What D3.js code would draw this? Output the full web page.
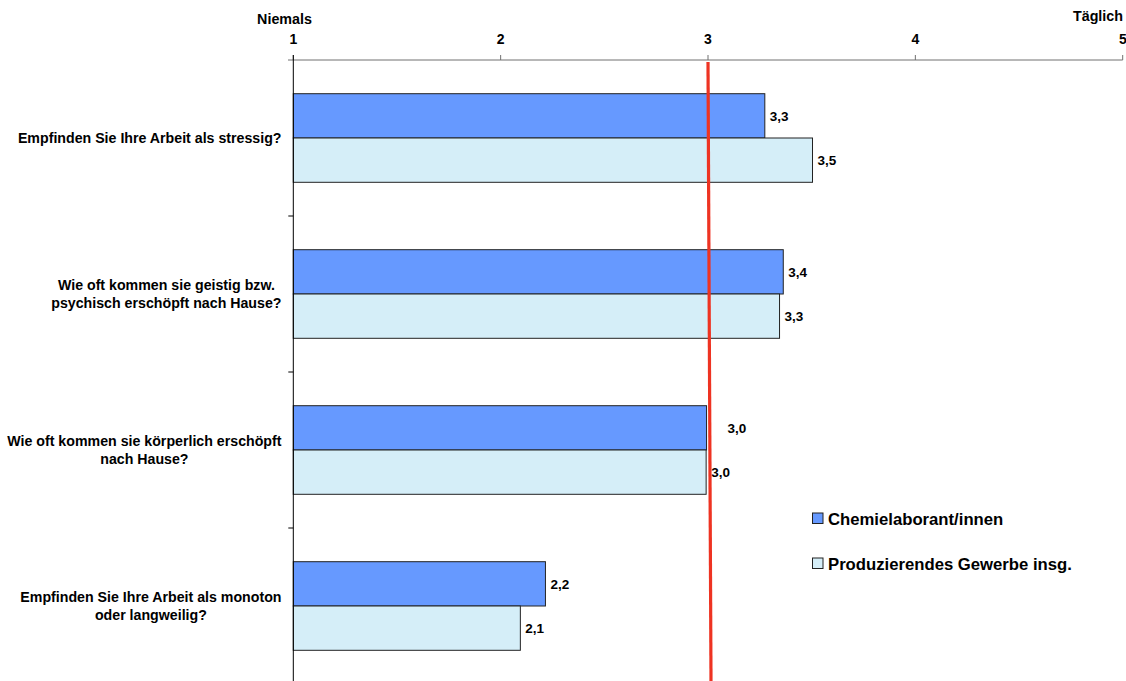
<!DOCTYPE html>
<html>
<head>
<meta charset="utf-8">
<script src="https://cdn.jsdelivr.net/npm/d3@7"></script>
<style>
  html, body { margin: 0; padding: 0; background: #fff; }
  svg { display: block; font-family: "Liberation Sans", Arial, sans-serif; font-weight: bold; }
</style>
</head>
<body>
<svg id="chart" width="1126" height="681"></svg>
<script>
// Survey questions (line breaks as shown in the axis labels)
const categories = [
  "Empfinden Sie Ihre Arbeit als stressig?",
  "Wie oft kommen sie geistig bzw.\npsychisch erschöpft nach Hause?",
  "Wie oft kommen sie körperlich erschöpft\nnach Hause?",
  "Empfinden Sie Ihre Arbeit als monoton\noder langweilig?"
];
const seriesNames = ["Chemielaborant/innen", "Produzierendes Gewerbe insg."];
const chemielaboranten = [3.274, 3.363, 2.993, 2.216];
const produzierendesGewerbe = [3.504, 3.345, 2.991, 2.095];
const tickValues = [1, 2, 3, 4, 5];
const scaleEndLabels = ["Niemals", "Täglich"];
const referenceValue = 3;

const colors = ["#6699ff", "#d5eef8"];
const series = [chemielaboranten, produzierendesGewerbe];

const svg = d3.select("#chart");

const x = d3.scaleLinear().domain([1, 5]).range([293.3, 1122.7]);
const y = d3.scaleBand().domain(d3.range(categories.length)).range([60, 684]);
const barH = 44.3;

// Horizontal value axis at the top
const axisY = 60;
svg.append("line")
  .attr("x1", 288).attr("x2", x(5)).attr("y1", axisY).attr("y2", axisY)
  .attr("stroke", "#707070").attr("stroke-width", 1);
svg.selectAll(".xtick").data(tickValues).join("line")
  .attr("x1", d => x(d)).attr("x2", d => x(d))
  .attr("y1", axisY - 5).attr("y2", axisY)
  .attr("stroke", "#707070");
svg.selectAll(".xlabel").data(tickValues).join("text")
  .attr("x", d => x(d)).attr("y", 44)
  .attr("text-anchor", d => d === 5 ? "end" : "middle")
  .attr("dx", d => d === 5 ? 4 : 0)
  .attr("font-size", 14)
  .text(d => d);

svg.append("text").attr("x", 284.5).attr("y", 24)
  .attr("text-anchor", "middle").attr("font-size", 14.3).text(scaleEndLabels[0]);
svg.append("text").attr("x", 1123).attr("y", 20.5)
  .attr("text-anchor", "end").attr("font-size", 14.3).text(scaleEndLabels[1]);

// Bars
categories.forEach((c, i) => {
  const cy = y(i) + y.bandwidth() / 2;
  series.forEach((vals, s) => {
    svg.append("rect")
      .attr("x", x(1)).attr("y", cy - barH + s * barH)
      .attr("width", x(vals[i]) - x(1)).attr("height", barH)
      .attr("fill", colors[s]).attr("stroke", "#222").attr("stroke-width", 1);
  });
});

// Vertical category axis
svg.append("line")
  .attr("x1", x(1)).attr("x2", x(1)).attr("y1", 55).attr("y2", 681)
  .attr("stroke", "#000").attr("stroke-width", 1);
svg.selectAll(".ytick").data(d3.range(1, categories.length)).join("line")
  .attr("x1", x(1) - 5).attr("x2", x(1))
  .attr("y1", d => y(d)).attr("y2", d => y(d))
  .attr("stroke", "#000");

// Category labels: block right-aligned, lines centred within the block
const catFont = 14.2;
const lineH = 18;
categories.forEach((c, i) => {
  const lines = c.split("\n");
  const cy = y(i) + y.bandwidth() / 2;
  const g = svg.append("g");
  const texts = lines.map((l, k) => g.append("text")
    .attr("font-size", catFont)
    .attr("text-anchor", "middle")
    .attr("y", cy + (k - (lines.length - 1) / 2) * lineH + catFont * 0.36)
    .text(l));
  const maxW = d3.max(texts, t => t.node().getComputedTextLength());
  texts.forEach(t => t.attr("x", 281.5 - maxW / 2));
});

// Value labels
const fmt = v => d3.format(".1f")(v).replace(".", ",");
categories.forEach((c, i) => {
  const cy = y(i) + y.bandwidth() / 2;
  series.forEach((vals, s) => {
    const barMid = cy - barH / 2 + s * barH;
    // keep the label clear of the reference line when the bar ends just short of it
    const nearRef = s === 0 && Math.abs(x(vals[i]) - x(referenceValue)) < 6;
    svg.append("text")
      .attr("x", x(vals[i]) + (nearRef ? 21 : 5))
      .attr("y", barMid + 4.8)
      .attr("font-size", 13.5)
      .text(fmt(vals[i]));
  });
});

// Reference line at the scale midpoint
svg.append("line")
  .attr("x1", x(referenceValue)).attr("y1", 62)
  .attr("x2", x(referenceValue + 0.0145)).attr("y2", 681)
  .attr("stroke", "#ee3322").attr("stroke-width", 3.2);

// Legend
const legendY = [513, 558];
seriesNames.forEach((name, s) => {
  svg.append("rect")
    .attr("x", 812.5).attr("y", legendY[s]).attr("width", 10.5).attr("height", 10.5)
    .attr("fill", colors[s]).attr("stroke", "#222").attr("stroke-width", 1);
  svg.append("text")
    .attr("x", 828).attr("y", legendY[s] + 11.5)
    .attr("font-size", 16.7)
    .text(name);
});
</script>
</body>
</html>
